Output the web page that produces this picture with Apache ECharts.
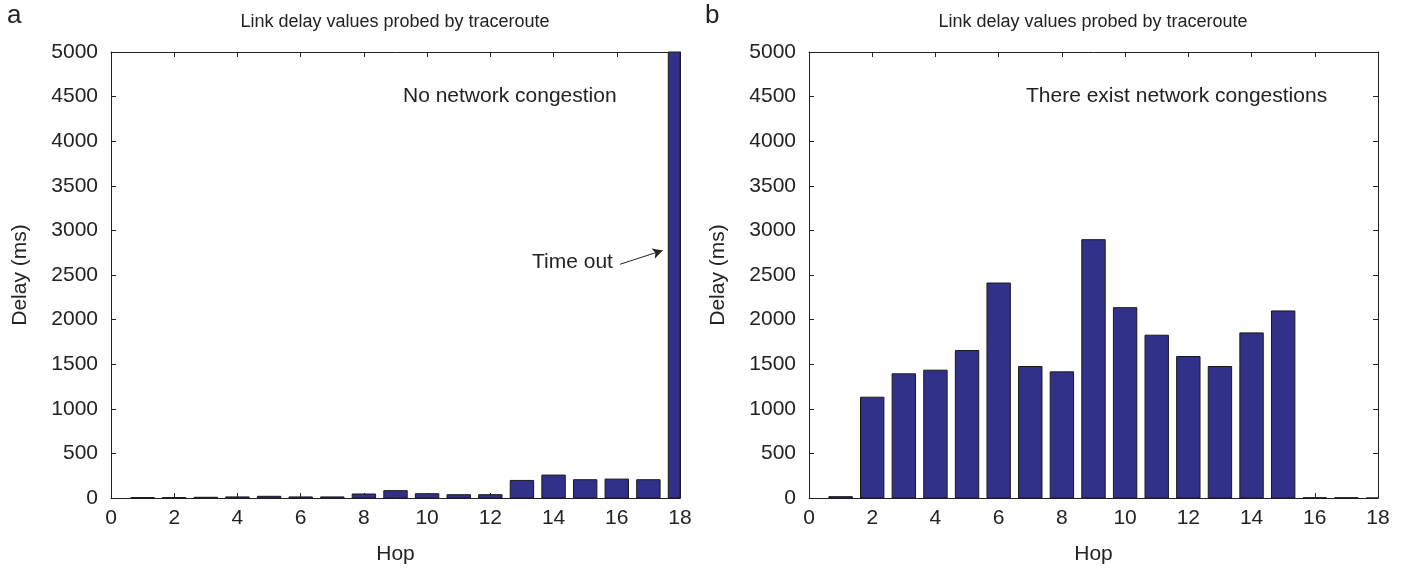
<!DOCTYPE html>
<html><head><meta charset="utf-8">
<script src="https://cdn.jsdelivr.net/npm/echarts@6/dist/echarts.min.js"></script>
<style>html,body{margin:0;padding:0;background:#fff}#c{width:1404px;height:570px}</style>
</head><body><div id="c"></div>
<script>
const hops = [1,2,3,4,5,6,7,8,9,10,11,12,13,14,15,16,17,18];
const delayA = [5,5,8,12,19,12,12,45,82,48,37,37,197,257,205,212,205,5000];
const delayB = [15,1130,1392,1433,1653,2410,1474,1414,2896,2134,1825,1586,1474,1851,2097,3,3,0];
const xTicks = [0,2,4,6,8,10,12,14,16,18];
const yTicks = [0,500,1000,1500,2000,2500,3000,3500,4000,4500,5000];
const titleText = 'Link delay values probed by traceroute';
const noteA = 'No network congestion';
const noteB = 'There exist network congestions';
const timeoutText = 'Time out';
const arrowFrom = [16.1, 2620];
const arrowTo = [17.45, 2775];

const FONT = 'Liberation Sans, Arial, sans-serif';
const BAR_HALF = 0.37; // half bar width in hop units
const grids = [
  {left:111, width:569, top:52, height:447},
  {left:809, width:569, top:52, height:447}
];
const textStyle = {fontFamily: FONT, color:'#222', fontSize:21};
const xAxes = [], yAxes = [], series = [];
const line = {show:true, onZero:false, lineStyle:{color:'#222', width:1}};
const tick = {show:true, inside:true, length:5, lineStyle:{color:'#222'}};
grids.forEach((g,i)=>{
  xAxes.push({type:'value', gridIndex:i, min:xTicks[0], max:xTicks[xTicks.length-1], interval:2, position:'bottom',
    name:'Hop', nameLocation:'middle', nameGap:46, nameTextStyle:textStyle,
    axisLine:line, axisTick:tick,
    axisLabel:{...textStyle, margin:10}, splitLine:{show:false}});
  xAxes.push({type:'value', gridIndex:i, min:xTicks[0], max:xTicks[xTicks.length-1], interval:2, position:'top',
    axisLine:line, axisTick:tick, axisLabel:{show:false}, splitLine:{show:false}});
  yAxes.push({type:'value', gridIndex:i, min:yTicks[0], max:yTicks[yTicks.length-1], interval:500, position:'left',
    name:'Delay (ms)', nameLocation:'middle', nameGap:80, nameTextStyle:textStyle,
    axisLine:line, axisTick:tick,
    axisLabel:{...textStyle, margin:13, formatter:v=>String(v)}, splitLine:{show:false}});
  yAxes.push({type:'value', gridIndex:i, min:yTicks[0], max:yTicks[yTicks.length-1], interval:500, position:'right',
    axisLine:line, axisTick:tick, axisLabel:{show:false}, splitLine:{show:false}});
});
const barStyle = {fill:'#31318a', stroke:'#1a1a1a', lineWidth:1};
function renderBar(params, api){
  const x = api.value(0), y = api.value(1);
  const p0 = api.coord([x - BAR_HALF, y]);
  const p1 = api.coord([x + BAR_HALF, 0]);
  const shape = echarts.graphic.clipRectByRect(
    {x:p0[0], y:p0[1], width:p1[0]-p0[0], height:p1[1]-p0[1]},
    {x:params.coordSys.x, y:params.coordSys.y, width:params.coordSys.width, height:params.coordSys.height});
  if (!shape) return null;
  return {type:'rect', shape, style:barStyle};
}
series.push({type:'custom', xAxisIndex:0, yAxisIndex:0, renderItem:renderBar,
  encode:{x:0, y:1},
  data: hops.map((h,k)=>[h, delayA[k]]),
  markLine:{silent:true, symbol:['none','arrow'], symbolSize:[8,10], label:{show:false},
    lineStyle:{color:'#222', width:1, type:'solid'},
    data:[[{coord:arrowFrom},{coord:arrowTo}]]}});
series.push({type:'custom', xAxisIndex:2, yAxisIndex:2, renderItem:renderBar,
  encode:{x:0, y:1},
  data: hops.map((h,k)=>[h, delayB[k]])});

const option = {
  animation:false,
  grid: grids,
  xAxis: xAxes, yAxis: yAxes, series,
  graphic:[
    {type:'text', left:7, top:3, style:{text:'a', font:'26px '+FONT, fill:'#222'}},
    {type:'text', left:705, top:3, style:{text:'b', font:'26px '+FONT, fill:'#222'}},
    {type:'text', x:395, y:22, style:{text:titleText, font:'18px '+FONT, fill:'#222', align:'center', verticalAlign:'middle'}},
    {type:'text', x:1093, y:22, style:{text:titleText, font:'18px '+FONT, fill:'#222', align:'center', verticalAlign:'middle'}},
    {type:'text', x:403, y:96, style:{text:noteA, font:'21px '+FONT, fill:'#222', verticalAlign:'middle'}},
    {type:'text', x:1026, y:96, style:{text:noteB, font:'21px '+FONT, fill:'#222', verticalAlign:'middle'}},
    {type:'text', x:532, y:262, style:{text:timeoutText, font:'21px '+FONT, fill:'#222', verticalAlign:'middle'}}
  ]
};
const chart = echarts.init(document.getElementById('c'), null, {renderer:'canvas'});
chart.setOption(option);
</script></body></html>
